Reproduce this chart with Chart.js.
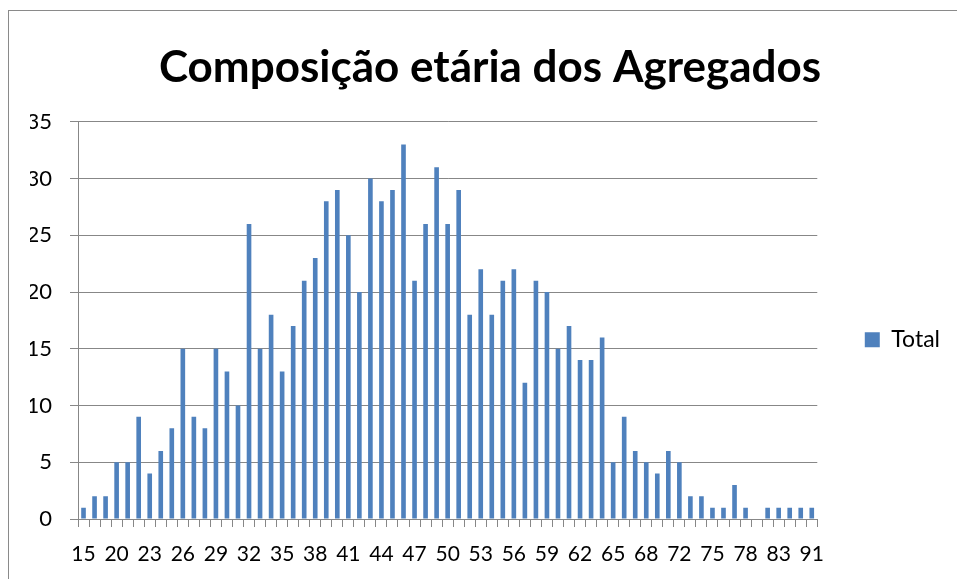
<!DOCTYPE html>
<html>
<head>
<meta charset="utf-8">
<script src="https://cdn.jsdelivr.net/npm/chart.js@4/dist/chart.umd.min.js"></script>
<style>
  html, body { margin: 0; padding: 0; background: #fff; overflow: hidden; width: 957px; height: 579px; }
  #frame { position: absolute; left: 8px; top: 10px; width: 980px; height: 600px;
           border-left: 1px solid #8a8a8a; border-top: 1px solid #8a8a8a; }
  #wrap { position: absolute; left: 0; top: 0; width: 962px; height: 568px; }
</style>
</head>
<body>
<div id="frame"><div id="wrap"><canvas id="c" width="962" height="568"></canvas></div></div>
<script>
const titleText = 'Composição etária dos Agregados';
const seriesName = 'Total';
const ages = [15, 17, 18, 20, 21, 22, 23, 24, 25, 26, 27, 28, 29, 30, 31, 32, 33, 34, 35, 36,
  37, 38, 39, 40, 41, 42, 43, 44, 45, 46, 47, 48, 49, 50, 51, 52, 53, 54, 55, 56,
  57, 58, 59, 60, 61, 62, 63, 64, 65, 66, 67, 68, 69, 70, 72, 73, 74, 75, 76, 77,
  78, 79, 81, 83, 85, 88, 91];
const totals = [1, 2, 2, 5, 5, 9, 4, 6, 8, 15, 9, 8, 15, 13, 10, 26, 15, 18, 13, 17,
  21, 23, 28, 29, 25, 20, 30, 28, 29, 33, 21, 26, 31, 26, 29, 18, 22, 18, 21, 22,
  12, 21, 20, 15, 17, 14, 14, 16, 5, 9, 6, 5, 4, 6, 5, 2, 2, 1, 1, 3,
  1, null, 1, 1, 1, 1, 1];
const yTicks = [0, 5, 10, 15, 20, 25, 30, 35];

const gridGray = '#878787';
new Chart(document.getElementById('c'), {
  type: 'bar',
  data: {
    labels: ages.map(String),
    datasets: [{
      label: seriesName,
      data: totals,
      backgroundColor: '#4F81BD',
      borderWidth: 0,
      barPercentage: 0.42,
      categoryPercentage: 1.0
    }]
  },
  options: {
    responsive: false,
    animation: false,
    layout: { padding: { left: 21, right: 21, top: 0, bottom: 0 } },
    plugins: {
      title: {
        display: true,
        text: titleText,
        color: '#000',
        font: { family: 'Lato', size: 44, weight: 'bold', lineHeight: 1.2 },
        padding: { top: 30, bottom: 28 }
      },
      legend: {
        display: true,
        position: 'right',
        fullSize: false,
        title: { display: true, text: ' ', font: { family: 'Lato', size: 23, lineHeight: 1.2 }, padding: { top: 6, bottom: 5 } },
        labels: {
          color: '#000',
          font: { family: 'Lato', size: 23 },
          boxWidth: 15,
          boxHeight: 15,
          padding: 47.5
        }
      },
      tooltip: { enabled: false }
    },
    scales: {
      x: {
        offset: true,
        grid: { display: true, drawOnChartArea: false, drawTicks: true, tickLength: 8, color: gridGray, offset: true },
        border: { display: true, color: gridGray },
        ticks: {
          autoSkip: false, maxRotation: 0, minRotation: 0, padding: 15,
          color: '#000', font: { family: 'Lato', size: 21 },
          callback: function(v, i) { return i % 3 === 0 ? ages[i] : ''; }
        },
        afterFit: function(s) { s.height = 60; }
      },
      y: {
        min: 0, max: 35,
        afterBuildTicks: function(s) { s.ticks = yTicks.map(v => ({ value: v })); },
        grid: { color: gridGray, lineWidth: 1, tickLength: 8, drawTicks: true },
        border: { display: true, color: gridGray },
        ticks: { padding: 18, color: '#000', font: { family: 'Lato', size: 22 } },
        afterFit: function(s) { s.width = 48; }
      }
    }
  }
});
</script>
</body>
</html>
